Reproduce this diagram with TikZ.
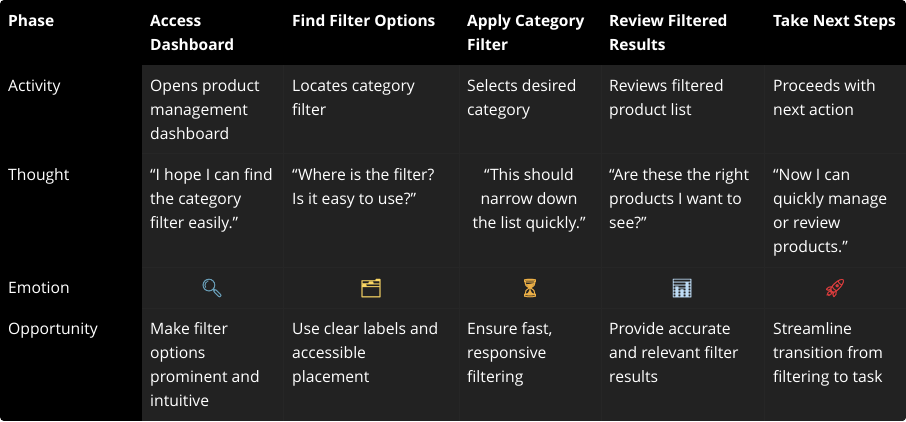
\documentclass[tikz,border=0pt]{standalone}
\usepackage{xcolor}
\usepackage{fontspec}
\setmainfont{Open Sans}
\newfontfamily\emojifont[FakeBold=1.2]{Noto Emoji}
\usepackage{tikz}
\definecolor{cellgrey}{RGB}{34, 34, 34}
\definecolor{gridgrey}{RGB}{38, 38, 38}
\definecolor{lensblue}{RGB}{106, 160, 186}
\definecolor{folderyellow}{RGB}{250, 215, 100}
\definecolor{sandorange}{RGB}{235, 175, 70}
\definecolor{chartblue}{RGB}{190, 220, 245}
\definecolor{rocketred}{RGB}{215, 60, 60}

\begin{document}
\begin{tikzpicture}[
      x=1pt, y=-1pt,
      head/.style={anchor=north west, inner sep=0pt, align=left, text=white,
        font=\fontsize{15.5}{24}\selectfont\bfseries},
      cell/.style={anchor=north west, inner sep=0pt, align=left, text=white,
        font=\fontsize{15.7}{24}\selectfont},
      mid/.style={cell, anchor=north, align=center},
      icon/.style={anchor=center, inner sep=0pt, font=\fontsize{18}{20}\selectfont\emojifont},
  ]
      \useasboundingbox (0,0) rectangle (906,421);

      % Background
      \fill[white] (0,0) rectangle (906,421);
      \begin{scope}
          \clip[rounded corners=4pt] (0,0) rectangle (906,421);
          \fill[black] (0,0) rectangle (906,421);
          \fill[cellgrey] (142,65) rectangle (906,421);

          % Grid lines
          \foreach \x in {283,459,601,764}
              \draw[gridgrey, line width=0.6pt] (\x,65) -- (\x,421);
          \foreach \y in {153,267,308}
              \draw[gridgrey, line width=0.6pt] (142,\y) -- (906,\y);
      \end{scope}

      % Header row
      \node[head] (phase) at (8,9.5) {\strut Phase};
      \node[head] (access) at (150,9.5) {\strut Access\\Dashboard};
      \node[head] (find) at (292,9.5) {\strut Find Filter Options};
      \node[head] (apply) at (467,9.5) {\strut Apply Category\\Filter};
      \node[head] (review) at (609,9.5) {\strut Review Filtered\\Results};
      \node[head] (next) at (773,9.5) {\strut Take Next Steps};

      % Activity
      \node[cell] (activity) at (8,74.5) {\strut Activity};
      \node[cell] (act1) at (150,74.5) {\strut Opens product\\management\\dashboard};
      \node[cell] (act2) at (292,74.5) {\strut Locates category\\filter};
      \node[cell] (act3) at (467,74.5) {\strut Selects desired\\category};
      \node[cell] (act4) at (609,74.5) {\strut Reviews filtered\\product list};
      \node[cell] (act5) at (773,74.5) {\strut Proceeds with\\next action};

      % Thought
      \node[cell] (thought) at (8,163.3) {\strut Thought};
      \node[cell] (tho1) at (150,163.3) {\strut “I hope I can find\\the category\\filter easily.”};
      \node[cell] (tho2) at (292,163.3) {\strut “Where is the filter?\\Is it easy to use?”};
      \node[mid] (tho3) at (529,163.3) {\strut “This should\\narrow down\\the list quickly.”};
      \node[cell] (tho4) at (609,163.3) {\strut “Are these the right\\products I want to\\see?”};
      \node[cell] (tho5) at (773,163.3) {\strut “Now I can\\quickly manage\\or review\\products.”};

      % Emotion
      \node[cell] (emotion) at (8,276.3) {\strut Emotion};
      \node[icon, text=lensblue] (emo1) at (212,288) {🔍};
      \node[icon, text=folderyellow] (emo2) at (371,288) {🗂};
      \node[icon, text=sandorange] (emo3) at (530,288) {⏳};
      \node[icon, text=chartblue] (emo4) at (682,288) {📊};
      \node[icon, text=rocketred] (emo5) at (835,288) {🚀};

      % Opportunity
      \node[cell] (opportunity) at (8,317.5) {\strut Opportunity};
      \node[cell] (opp1) at (150,317.5) {\strut Make filter\\options\\prominent and\\intuitive};
      \node[cell] (opp2) at (292,317.5) {\strut Use clear labels and\\accessible\\placement};
      \node[cell] (opp3) at (467,317.5) {\strut Ensure fast,\\responsive\\filtering};
      \node[cell] (opp4) at (609,317.5) {\strut Provide accurate\\and relevant filter\\results};
      \node[cell] (opp5) at (773,317.5) {\strut Streamline\\transition from\\filtering to task};

  \end{tikzpicture}
\end{document}
